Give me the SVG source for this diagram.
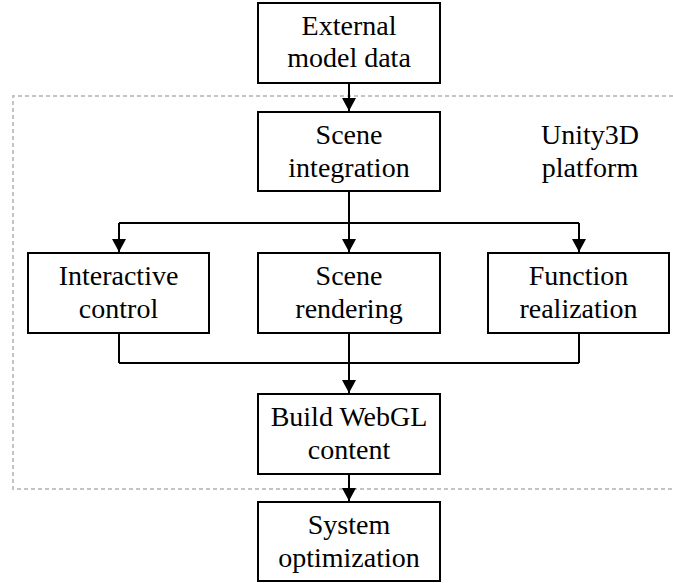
<svg xmlns="http://www.w3.org/2000/svg" width="673" height="583" viewBox="0 0 673 583">
<style>
.box{fill:#fff;stroke:#000;stroke-width:2}
.t{font-family:"Liberation Serif","Times New Roman",serif;font-size:28px;fill:#000;text-anchor:middle}
.c{fill:none;stroke:#000;stroke-width:2}
.a{marker-end:url(#arr)}
</style>
<defs>
<marker id="arr" markerUnits="userSpaceOnUse" markerWidth="13" markerHeight="14" refX="13" refY="7" orient="auto" viewBox="0 0 13 14">
<path d="M0,0 L13,7 L0,14 z" fill="#000"/>
</marker>
</defs>
<g id="platform">
<path d="M673,96 H13 V489 H673" fill="none" stroke="#c4c4c4" stroke-width="2" stroke-dasharray="4 3"/>
<text class="t" x="590" y="144">Unity3D</text>
<text class="t" x="590" y="177">platform</text>
</g>
<g id="connectors">
<path class="c a" d="M349,83 V111"/>
<path class="c a" d="M349,191 V252"/>
<path class="c" d="M119,223 H579"/>
<path class="c a" d="M119,223 V252"/>
<path class="c a" d="M579,223 V252"/>
<path class="c" d="M119,333 V363 M579,333 V363 M119,363 H579"/>
<path class="c a" d="M349,333 V393"/>
<path class="c a" d="M349,474 V501"/>
</g>
<g id="external">
<rect class="box" x="258" y="3" width="182" height="80"/>
<text class="t" x="349" y="35">External</text>
<text class="t" x="349" y="67">model data</text>
</g>
<g id="scene-integration">
<rect class="box" x="258" y="112" width="182" height="79"/>
<text class="t" x="349" y="144">Scene</text>
<text class="t" x="349" y="177">integration</text>
</g>
<g id="interactive">
<rect class="box" x="28" y="253" width="181" height="80"/>
<text class="t" x="118.5" y="285">Interactive</text>
<text class="t" x="118.5" y="318">control</text>
</g>
<g id="rendering">
<rect class="box" x="258" y="253" width="182" height="80"/>
<text class="t" x="349" y="285">Scene</text>
<text class="t" x="349" y="318">rendering</text>
</g>
<g id="function">
<rect class="box" x="488" y="253" width="181" height="80"/>
<text class="t" x="578.5" y="285">Function</text>
<text class="t" x="578.5" y="318">realization</text>
</g>
<g id="webgl">
<rect class="box" x="258" y="394" width="182" height="80"/>
<text class="t" x="349" y="426">Build WebGL</text>
<text class="t" x="349" y="459">content</text>
</g>
<g id="optimization">
<rect class="box" x="258" y="502" width="182" height="79"/>
<text class="t" x="349" y="534">System</text>
<text class="t" x="349" y="567">optimization</text>
</g>
</svg>
